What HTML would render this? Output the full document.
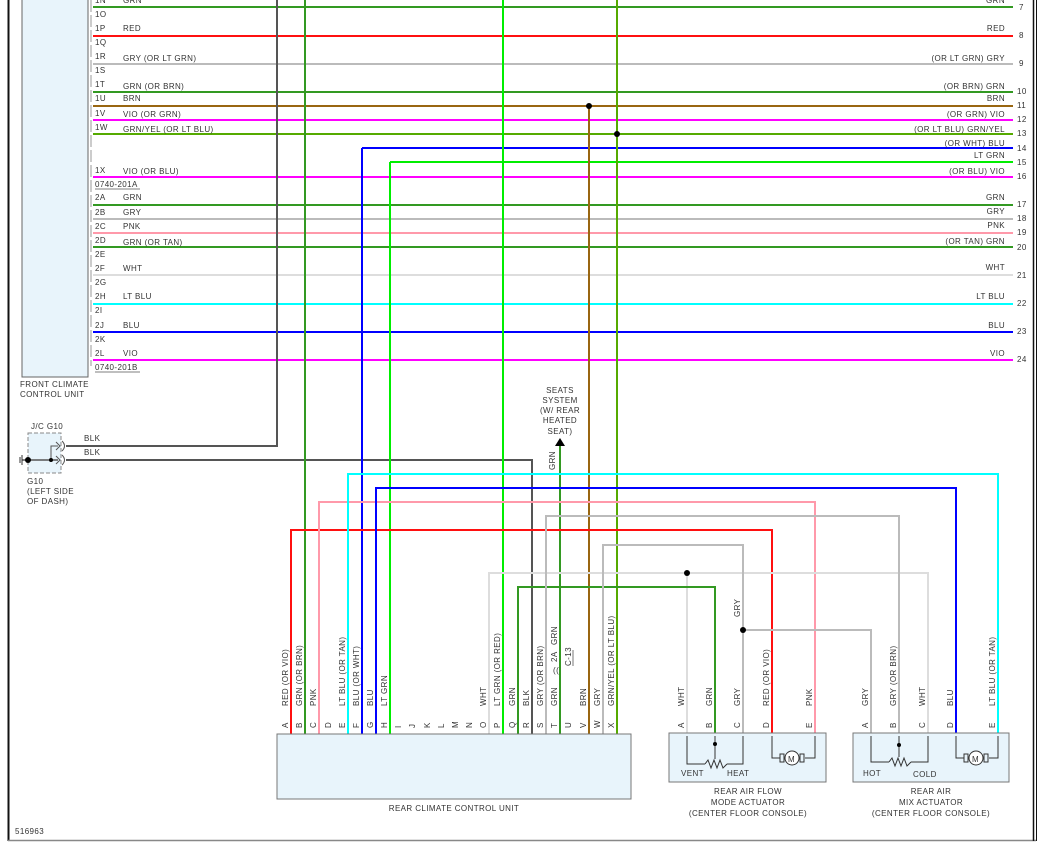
<!DOCTYPE html>
<html><head><meta charset="utf-8"><style>
html,body{margin:0;padding:0;background:#fff;}
svg{display:block;}
text{font-family:"Liberation Sans",sans-serif;font-size:8px;fill:#333;letter-spacing:0.4px;}
.w{fill:none;stroke-width:2;}
</style></head><body>
<svg width="1039" height="849" viewBox="0 0 1039 849" xmlns="http://www.w3.org/2000/svg">
<line x1="8.5" y1="0" x2="8.5" y2="841" stroke="#111" stroke-width="2"/>
<line x1="8" y1="840.5" x2="1036" y2="840.5" stroke="#888" stroke-width="1.5"/>
<line x1="1033.5" y1="0" x2="1033.5" y2="841" stroke="#111" stroke-width="1.5"/>
<line x1="1036.5" y1="0" x2="1036.5" y2="841" stroke="#111" stroke-width="1"/>

<rect x="22" y="-2" width="66" height="379" fill="#e8f4fb" stroke="#666" stroke-width="1"/>
<line x1="91" y1="0" x2="91" y2="366" stroke="#bbb" stroke-width="1.5" stroke-dasharray="12,3"/>
<text x="20" y="387">FRONT CLIMATE</text>
<text x="20" y="397">CONTROL UNIT</text>

<g class="w">
<line x1="93" y1="7" x2="1013" y2="7" stroke="#339922"/>
<line x1="93" y1="36" x2="1013" y2="36" stroke="#ff1010"/>
<line x1="93" y1="64" x2="1013" y2="64" stroke="#bbb"/>
<line x1="93" y1="92" x2="1013" y2="92" stroke="#339922"/>
<line x1="93" y1="106" x2="1013" y2="106" stroke="#996611"/>
<line x1="93" y1="120" x2="1013" y2="120" stroke="#ff00ff"/>
<line x1="93" y1="134" x2="1013" y2="134" stroke="#55aa00"/>
<line x1="362" y1="148" x2="1013" y2="148" stroke="#0000ff"/>
<line x1="390" y1="162" x2="1013" y2="162" stroke="#00ee00"/>
<line x1="93" y1="177" x2="1013" y2="177" stroke="#ff00ff"/>
<line x1="93" y1="205" x2="1013" y2="205" stroke="#339922"/>
<line x1="93" y1="219" x2="1013" y2="219" stroke="#bbb"/>
<line x1="93" y1="233" x2="1013" y2="233" stroke="#ff99aa"/>
<line x1="93" y1="247" x2="1013" y2="247" stroke="#339922"/>
<line x1="93" y1="275" x2="1013" y2="275" stroke="#ddd"/>
<line x1="93" y1="304" x2="1013" y2="304" stroke="#00ffff"/>
<line x1="93" y1="332" x2="1013" y2="332" stroke="#0000ff"/>
<line x1="93" y1="360" x2="1013" y2="360" stroke="#ff00ff"/>
</g>

<g>
<text x="95" y="3">1N</text><text x="123" y="3">GRN</text>
<text x="95" y="17">1O</text>
<text x="95" y="31">1P</text><text x="123" y="31">RED</text>
<text x="95" y="45">1Q</text>
<text x="95" y="59">1R</text><text x="123" y="61">GRY (OR LT GRN)</text>
<text x="95" y="73">1S</text>
<text x="95" y="87">1T</text><text x="123" y="89">GRN (OR BRN)</text>
<text x="95" y="101">1U</text><text x="123" y="101">BRN</text>
<text x="95" y="116">1V</text><text x="123" y="117">VIO (OR GRN)</text>
<text x="95" y="130">1W</text><text x="123" y="132">GRN/YEL (OR LT BLU)</text>
<text x="95" y="173">1X</text><text x="123" y="174">VIO (OR BLU)</text>
<text x="95" y="187">0740-201A</text>
<line x1="95" y1="189" x2="140" y2="189" stroke="#555" stroke-width="0.8"/>
<text x="95" y="200">2A</text><text x="123" y="200">GRN</text>
<text x="95" y="215">2B</text><text x="123" y="215">GRY</text>
<text x="95" y="229">2C</text><text x="123" y="229">PNK</text>
<text x="95" y="243">2D</text><text x="123" y="245">GRN (OR TAN)</text>
<text x="95" y="257">2E</text>
<text x="95" y="271">2F</text><text x="123" y="271">WHT</text>
<text x="95" y="285">2G</text>
<text x="95" y="299">2H</text><text x="123" y="299">LT BLU</text>
<text x="95" y="313">2I</text>
<text x="95" y="328">2J</text><text x="123" y="328">BLU</text>
<text x="95" y="342">2K</text>
<text x="95" y="356">2L</text><text x="123" y="356">VIO</text>
<text x="95" y="370">0740-201B</text>
<line x1="95" y1="372" x2="140" y2="372" stroke="#555" stroke-width="0.8"/>
</g>

<g text-anchor="end">
<text x="1005" y="3">GRN</text>
<text x="1005" y="31">RED</text>
<text x="1005" y="61">(OR LT GRN) GRY</text>
<text x="1005" y="89">(OR BRN) GRN</text>
<text x="1005" y="101">BRN</text>
<text x="1005" y="117">(OR GRN) VIO</text>
<text x="1005" y="132">(OR LT BLU) GRN/YEL</text>
<text x="1005" y="146">(OR WHT) BLU</text>
<text x="1005" y="158">LT GRN</text>
<text x="1005" y="174">(OR BLU) VIO</text>
<text x="1005" y="200">GRN</text>
<text x="1005" y="214">GRY</text>
<text x="1005" y="228">PNK</text>
<text x="1005" y="244">(OR TAN) GRN</text>
<text x="1005" y="270">WHT</text>
<text x="1005" y="299">LT BLU</text>
<text x="1005" y="328">BLU</text>
<text x="1005" y="356">VIO</text>
</g>
<g>
<text x="1019" y="10">7</text><text x="1019" y="38">8</text><text x="1019" y="66">9</text>
<text x="1017" y="94">10</text><text x="1017" y="108">11</text><text x="1017" y="122">12</text>
<text x="1017" y="136">13</text><text x="1017" y="151">14</text><text x="1017" y="165">15</text>
<text x="1017" y="179">16</text><text x="1017" y="207">17</text><text x="1017" y="221">18</text>
<text x="1017" y="235">19</text><text x="1017" y="250">20</text><text x="1017" y="278">21</text>
<text x="1017" y="306">22</text><text x="1017" y="334">23</text><text x="1017" y="362">24</text>
</g>

<g class="w">
<polyline points="277,0 277,446 66,446" stroke="#555"/>
<polyline points="532,735 532,460 66,460" stroke="#555"/>
<line x1="305" y1="0" x2="305" y2="735" stroke="#339922"/>
<line x1="503" y1="0" x2="503" y2="735" stroke="#00ee00"/>
<line x1="617" y1="0" x2="617" y2="735" stroke="#55aa00"/>
<line x1="589" y1="106" x2="589" y2="735" stroke="#996611"/>
<line x1="362" y1="148" x2="362" y2="735" stroke="#0000ff"/>
<line x1="390" y1="162" x2="390" y2="735" stroke="#00ee00"/>
<line x1="560" y1="446" x2="560" y2="735" stroke="#339922"/>
<polyline points="291,735 291,530 772,530 772,735" stroke="#ff1010"/>
<polyline points="319,735 319,502 815,502 815,735" stroke="#ff99aa"/>
<polyline points="348,735 348,474 998,474 998,735" stroke="#00ffff"/>
<polyline points="376,735 376,488 956,488 956,735" stroke="#0000ff"/>
<polyline points="489,735 489,573 928,573 928,735" stroke="#ddd"/>
<line x1="687" y1="573" x2="687" y2="735" stroke="#ddd"/>
<polyline points="518,735 518,587 715,587 715,735" stroke="#339922"/>
<polyline points="546,735 546,516 899,516 899,735" stroke="#bbb"/>
<polyline points="603,735 603,545 743,545 743,735" stroke="#bbb"/>
<polyline points="743,630 871,630 871,735" stroke="#bbb"/>
</g>
<circle cx="589" cy="106" r="3" fill="#000"/>
<circle cx="617" cy="134" r="3" fill="#000"/>
<circle cx="687" cy="573" r="3" fill="#000"/>
<circle cx="743" cy="630" r="3" fill="#000"/>

<rect x="28" y="433" width="33" height="40" fill="#e8f4fb" stroke="#888" stroke-dasharray="4,2"/>
<text x="31" y="429">J/C G10</text>
<line x1="22" y1="460" x2="58" y2="460" stroke="#555" stroke-width="1.5"/>
<polyline points="51,460 51,446 58,446" fill="none" stroke="#555" stroke-width="1"/>
<g fill="none" stroke="#555" stroke-width="1">
<polyline points="56,442 60,446 56,450"/><path d="M62,441 Q67,446 62,451"/>
<polyline points="56,456 60,460 56,464"/><path d="M62,455 Q67,460 62,465"/>
</g>
<circle cx="28" cy="460" r="3" fill="#000"/><circle cx="51" cy="460" r="2" fill="#000"/>
<line x1="22" y1="455" x2="22" y2="465" stroke="#333"/><line x1="20" y1="457" x2="20" y2="463" stroke="#333"/>
<text x="84" y="441">BLK</text><text x="84" y="455">BLK</text>
<text x="27" y="484">G10</text><text x="27" y="494">(LEFT SIDE</text><text x="27" y="504">OF DASH)</text>

<g text-anchor="middle">
<text x="560" y="393">SEATS</text><text x="560" y="403">SYSTEM</text><text x="560" y="413">(W/ REAR</text>
<text x="560" y="423">HEATED</text><text x="560" y="434">SEAT)</text>
</g>
<polygon points="560,438 555,446 565,446" fill="#000"/>
<text transform="translate(555,470) rotate(-90)">GRN</text>

<rect x="277" y="734" width="354" height="65" fill="#e8f4fb" stroke="#777"/>
<text x="454" y="811" text-anchor="middle">REAR CLIMATE CONTROL UNIT</text>
<g>
<text transform="translate(288,706) rotate(-90)">RED (OR VIO)</text>
<text transform="translate(302,706) rotate(-90)">GRN (OR BRN)</text>
<text transform="translate(316,706) rotate(-90)">PNK</text>
<text transform="translate(345,706) rotate(-90)">LT BLU (OR TAN)</text>
<text transform="translate(359,706) rotate(-90)">BLU (OR WHT)</text>
<text transform="translate(373,706) rotate(-90)">BLU</text>
<text transform="translate(387,706) rotate(-90)">LT GRN</text>
<text transform="translate(486,706) rotate(-90)">WHT</text>
<text transform="translate(500,706) rotate(-90)">LT GRN (OR RED)</text>
<text transform="translate(515,706) rotate(-90)">GRN</text>
<text transform="translate(529,706) rotate(-90)">BLK</text>
<text transform="translate(543,706) rotate(-90)">GRY (OR BRN)</text>
<text transform="translate(557,706) rotate(-90)">GRN</text>
<text transform="translate(557,645) rotate(-90)">GRN</text>
<text transform="translate(557,662) rotate(-90)">2A</text>
<text transform="translate(571,666) rotate(-90)">C-13</text>
<line x1="573" y1="650" x2="573" y2="666" stroke="#555" stroke-width="0.8"/>
<text x="553" y="673" font-size="9">((</text>
<text transform="translate(586,706) rotate(-90)">BRN</text>
<text transform="translate(600,706) rotate(-90)">GRY</text>
<text transform="translate(614,706) rotate(-90)">GRN/YEL (OR LT BLU)</text>
</g>
<g font-size="7">
<text transform="translate(288,728) rotate(-90)">A</text><text transform="translate(302,728) rotate(-90)">B</text>
<text transform="translate(316,728) rotate(-90)">C</text><text transform="translate(331,728) rotate(-90)">D</text>
<text transform="translate(345,728) rotate(-90)">E</text><text transform="translate(359,728) rotate(-90)">F</text>
<text transform="translate(373,728) rotate(-90)">G</text><text transform="translate(387,728) rotate(-90)">H</text>
<text transform="translate(401,728) rotate(-90)">I</text><text transform="translate(415,728) rotate(-90)">J</text>
<text transform="translate(430,728) rotate(-90)">K</text><text transform="translate(444,728) rotate(-90)">L</text>
<text transform="translate(458,728) rotate(-90)">M</text><text transform="translate(472,728) rotate(-90)">N</text>
<text transform="translate(486,728) rotate(-90)">O</text><text transform="translate(500,728) rotate(-90)">P</text>
<text transform="translate(515,728) rotate(-90)">Q</text><text transform="translate(529,728) rotate(-90)">R</text>
<text transform="translate(543,728) rotate(-90)">S</text><text transform="translate(557,728) rotate(-90)">T</text>
<text transform="translate(571,728) rotate(-90)">U</text><text transform="translate(586,728) rotate(-90)">V</text>
<text transform="translate(600,728) rotate(-90)">W</text><text transform="translate(614,728) rotate(-90)">X</text>
</g>

<rect x="669" y="733" width="157" height="49" fill="#e8f4fb" stroke="#777"/>
<g fill="none" stroke="#333" stroke-width="1">
<polyline points="687,736 687,764 705,764"/><polyline points="743,736 743,764 727,764"/>
<polyline points="705,764 708,760 711,768 714,760 717,768 720,760 723,768 727,764"/>
<line x1="715" y1="736" x2="715" y2="759"/>
<polyline points="772,736 772,758 780,758"/><polyline points="815,736 815,758 805,758"/>
<circle cx="792" cy="758" r="7" fill="#fff"/>
<rect x="780" y="754" width="4" height="8"/><rect x="800" y="754" width="4" height="8"/>
</g>
<circle cx="715" cy="744" r="2" fill="#000"/>
<text x="788" y="762" font-size="9">M</text>
<text x="681" y="776">VENT</text><text x="727" y="776">HEAT</text>
<g text-anchor="middle"><text x="748" y="794">REAR AIR FLOW</text><text x="748" y="805">MODE ACTUATOR</text><text x="748" y="816">(CENTER FLOOR CONSOLE)</text></g>

<rect x="853" y="733" width="156" height="49" fill="#e8f4fb" stroke="#777"/>
<g fill="none" stroke="#333" stroke-width="1">
<polyline points="871,736 871,762 889,762"/><polyline points="928,736 928,762 911,762"/>
<polyline points="889,762 892,758 895,766 898,758 901,766 904,758 907,766 911,762"/>
<line x1="899" y1="736" x2="899" y2="757"/>
<polyline points="956,736 956,758 964,758"/><polyline points="998,736 998,758 989,758"/>
<circle cx="976" cy="758" r="7" fill="#fff"/>
<rect x="964" y="754" width="4" height="8"/><rect x="984" y="754" width="4" height="8"/>
</g>
<circle cx="899" cy="745" r="2" fill="#000"/>
<text x="972" y="762" font-size="9">M</text>
<text x="863" y="776">HOT</text><text x="913" y="777">COLD</text>
<g text-anchor="middle"><text x="931" y="794">REAR AIR</text><text x="931" y="805">MIX ACTUATOR</text><text x="931" y="816">(CENTER FLOOR CONSOLE)</text></g>

<g>
<text transform="translate(684,706) rotate(-90)">WHT</text>
<text transform="translate(712,706) rotate(-90)">GRN</text>
<text transform="translate(740,706) rotate(-90)">GRY</text>
<text transform="translate(740,617) rotate(-90)">GRY</text>
<text transform="translate(769,706) rotate(-90)">RED (OR VIO)</text>
<text transform="translate(812,706) rotate(-90)">PNK</text>
<text transform="translate(868,706) rotate(-90)">GRY</text>
<text transform="translate(896,706) rotate(-90)">GRY (OR BRN)</text>
<text transform="translate(925,706) rotate(-90)">WHT</text>
<text transform="translate(953,706) rotate(-90)">BLU</text>
<text transform="translate(995,706) rotate(-90)">LT BLU (OR TAN)</text>
</g>
<g font-size="7">
<text transform="translate(684,728) rotate(-90)">A</text><text transform="translate(712,728) rotate(-90)">B</text>
<text transform="translate(740,728) rotate(-90)">C</text><text transform="translate(769,728) rotate(-90)">D</text>
<text transform="translate(812,728) rotate(-90)">E</text>
<text transform="translate(868,728) rotate(-90)">A</text><text transform="translate(896,728) rotate(-90)">B</text>
<text transform="translate(925,728) rotate(-90)">C</text><text transform="translate(953,728) rotate(-90)">D</text>
<text transform="translate(995,728) rotate(-90)">E</text>
</g>

<text x="15" y="834">516963</text>
</svg>
</body></html>
